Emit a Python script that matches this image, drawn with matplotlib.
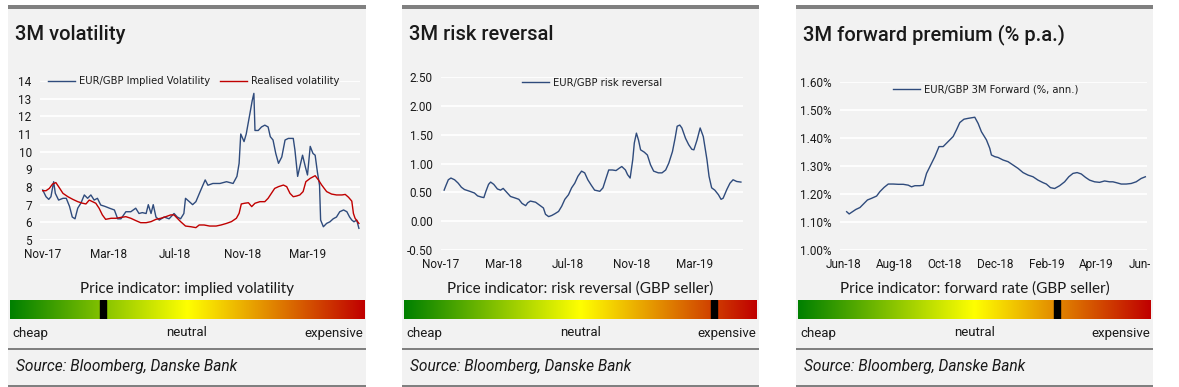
import matplotlib
matplotlib.use('Agg')
import matplotlib.pyplot as plt
import numpy as np
import pandas as pd
from matplotlib.patches import Rectangle
from matplotlib.colors import LinearSegmentedColormap
from matplotlib.transforms import Bbox, TransformedBbox
from matplotlib.ticker import FuncFormatter

# ---------------- data ----------------
iv_dates = ['2017-11-01','2017-11-07','2017-11-12','2017-11-16','2017-11-21','2017-11-24','2017-11-30',
    '2017-12-08','2017-12-14','2017-12-20','2017-12-25','2017-12-30','2018-01-04','2018-01-10','2018-01-16',
    '2018-01-22','2018-01-28','2018-02-03','2018-02-09','2018-02-15','2018-02-23','2018-03-03','2018-03-12',
    '2018-03-18','2018-03-24','2018-04-02','2018-04-11','2018-04-20','2018-04-26','2018-05-02','2018-05-09',
    '2018-05-13','2018-05-18','2018-05-22','2018-05-27','2018-06-02','2018-06-11','2018-06-20','2018-06-29',
    '2018-07-05','2018-07-11','2018-07-17','2018-07-20','2018-07-27','2018-08-02','2018-08-08','2018-08-17',
    '2018-08-25','2018-08-30','2018-09-08','2018-09-21','2018-10-03','2018-10-15','2018-10-22','2018-10-26',
    '2018-10-29','2018-11-04','2018-11-08','2018-11-15','2018-11-19','2018-11-22','2018-11-24','2018-11-30',
    '2018-12-06','2018-12-12','2018-12-18','2018-12-22','2018-12-27','2019-01-01','2019-01-06','2019-01-12',
    '2019-01-18','2019-01-24','2019-02-02','2019-02-05','2019-02-10','2019-02-14','2019-02-19','2019-02-24',
    '2019-02-28','2019-03-05','2019-03-10','2019-03-14','2019-03-18','2019-03-22','2019-03-24','2019-03-29',
    '2019-04-04','2019-04-10','2019-04-16','2019-04-22','2019-04-28','2019-05-05','2019-05-11','2019-05-16',
    '2019-05-20','2019-05-24','2019-05-29','2019-06-02']
iv_values = [7.83,7.45,7.30,7.45,8.30,7.64,7.26,
    7.36,7.36,6.90,6.30,6.20,6.80,7.10,7.55,
    7.36,7.55,7.26,7.36,6.98,6.90,6.80,6.70,
    6.20,6.20,6.60,6.60,6.80,6.50,6.55,6.50,
    7.00,6.50,7.00,6.30,6.13,6.30,6.20,6.50,
    6.30,6.20,6.50,7.36,7.17,7.00,7.17,7.83,
    8.40,8.10,8.20,8.20,8.30,8.20,8.60,9.34,
    11.00,10.57,11.00,12.20,12.90,13.30,11.20,11.20,
    11.40,11.50,11.40,10.85,10.66,9.90,9.34,9.70,
    10.66,10.75,10.75,10.10,8.60,9.15,9.80,9.15,
    8.68,10.30,9.90,9.80,8.87,8.10,6.13,5.75,
    5.94,6.03,6.20,6.30,6.60,6.70,6.60,6.30,
    6.13,6.03,6.13,5.66]

rv_dates = ['2017-11-01','2017-11-07','2017-11-13','2017-11-19','2017-11-25','2017-11-30','2017-12-08',
    '2017-12-17','2017-12-26','2018-01-04','2018-01-13','2018-01-19','2018-01-25','2018-01-31','2018-02-06',
    '2018-02-12','2018-02-18','2018-02-24','2018-03-06','2018-03-15','2018-03-24','2018-04-02','2018-04-11',
    '2018-04-20','2018-04-29','2018-05-09','2018-05-18','2018-05-27','2018-06-05','2018-06-14','2018-06-23',
    '2018-06-29','2018-07-05','2018-07-11','2018-07-20','2018-07-30','2018-08-08','2018-08-14','2018-08-23',
    '2018-09-02','2018-09-14','2018-09-23','2018-10-03','2018-10-12','2018-10-21','2018-10-26','2018-10-30',
    '2018-11-05','2018-11-12','2018-11-18','2018-11-24','2018-12-03','2018-12-12','2018-12-18','2018-12-24',
    '2018-12-30','2019-01-06','2019-01-15','2019-01-21','2019-01-27','2019-02-02','2019-02-08','2019-02-14',
    '2019-02-20','2019-02-25','2019-03-05','2019-03-14','2019-03-20','2019-03-26','2019-04-04','2019-04-13',
    '2019-04-22','2019-05-02','2019-05-08','2019-05-14','2019-05-20','2019-05-23','2019-05-26','2019-06-02']
rv_values = [7.79,7.79,7.92,8.17,8.25,8.02,7.64,
    7.45,7.30,7.17,7.08,7.04,7.26,7.17,7.08,
    6.80,6.42,6.17,6.23,6.23,6.28,6.32,6.23,
    6.10,5.98,5.98,6.04,6.17,6.23,6.32,6.42,
    6.42,6.23,6.04,5.79,5.75,5.70,5.85,5.85,
    5.79,5.79,5.85,5.94,6.04,6.23,6.51,7.04,
    7.08,7.11,6.89,7.08,7.17,7.17,7.36,7.64,
    7.92,8.02,8.11,8.02,7.64,7.45,7.49,7.55,
    7.74,8.30,8.49,8.64,8.40,8.11,7.74,7.60,
    7.55,7.55,7.58,7.42,7.20,6.50,6.23,5.94]

rr_dates = ['2017-11-07','2017-11-10','2017-11-15','2017-11-20','2017-11-27','2017-12-04','2017-12-10',
    '2017-12-16','2017-12-26','2018-01-04','2018-01-10','2018-01-17','2018-01-22','2018-01-26','2018-01-31',
    '2018-02-04','2018-02-10','2018-02-17','2018-02-23','2018-02-28','2018-03-08','2018-03-14','2018-03-24',
    '2018-03-30','2018-04-05','2018-04-12','2018-04-16','2018-04-21','2018-05-01','2018-05-10','2018-05-16',
    '2018-05-20','2018-05-26','2018-06-01','2018-06-07','2018-06-14','2018-06-20','2018-06-26','2018-07-03',
    '2018-07-09','2018-07-15','2018-07-21','2018-07-28','2018-08-03','2018-08-09','2018-08-16','2018-08-22',
    '2018-09-01','2018-09-07','2018-09-13','2018-09-18','2018-09-25','2018-10-02','2018-10-08','2018-10-13',
    '2018-10-20','2018-10-24','2018-10-29','2018-11-03','2018-11-06','2018-11-10','2018-11-14','2018-11-18',
    '2018-11-25','2018-12-01','2018-12-07','2018-12-13','2018-12-22','2018-12-29','2019-01-05','2019-01-11',
    '2019-01-18','2019-01-23','2019-01-27','2019-02-01','2019-02-05','2019-02-12','2019-02-18','2019-02-24',
    '2019-02-28','2019-03-06','2019-03-12','2019-03-18','2019-03-25','2019-03-29','2019-04-03','2019-04-09',
    '2019-04-16','2019-04-21','2019-04-25','2019-05-02','2019-05-08','2019-05-14','2019-05-21','2019-05-29']
rr_values = [0.54,0.61,0.72,0.75,0.72,0.66,0.59,
    0.55,0.52,0.49,0.44,0.42,0.41,0.52,0.64,
    0.68,0.64,0.56,0.54,0.57,0.49,0.43,0.40,
    0.38,0.31,0.27,0.32,0.35,0.33,0.27,0.23,
    0.12,0.08,0.10,0.13,0.17,0.26,0.38,0.46,
    0.58,0.66,0.78,0.87,0.84,0.72,0.62,0.54,
    0.52,0.58,0.75,0.89,0.89,0.88,0.92,0.95,
    0.89,0.81,0.75,1.07,1.36,1.53,1.41,1.24,
    1.20,1.15,0.98,0.87,0.84,0.84,0.89,1.01,
    1.21,1.44,1.65,1.67,1.62,1.44,1.33,1.25,
    1.24,1.41,1.62,1.47,1.07,0.78,0.58,0.54,
    0.46,0.38,0.40,0.55,0.66,0.72,0.69,0.68]

fw_dates = ['2018-06-05','2018-06-08','2018-06-12','2018-06-16','2018-06-21','2018-06-25','2018-06-30',
    '2018-07-05','2018-07-11','2018-07-15','2018-07-20','2018-07-25','2018-07-31','2018-08-06','2018-08-12',
    '2018-08-18','2018-08-22','2018-08-26','2018-09-01','2018-09-05','2018-09-09','2018-09-13','2018-09-19',
    '2018-09-24','2018-09-29','2018-10-03','2018-10-07','2018-10-11','2018-10-15','2018-10-19','2018-10-24',
    '2018-10-29','2018-11-06','2018-11-10','2018-11-14','2018-11-20','2018-11-24','2018-11-26','2018-11-30',
    '2018-12-04','2018-12-10','2018-12-16','2018-12-22','2018-12-28','2019-01-03','2019-01-09','2019-01-15',
    '2019-01-21','2019-01-27','2019-01-31','2019-02-05','2019-02-10','2019-02-16','2019-02-22','2019-02-27',
    '2019-03-04','2019-03-09','2019-03-14','2019-03-19','2019-03-24','2019-03-30','2019-04-05','2019-04-11',
    '2019-04-17','2019-04-21','2019-04-25','2019-05-01','2019-05-07','2019-05-13','2019-05-19','2019-05-25',
    '2019-05-30']
fw_values = [1.137,1.129,1.137,1.145,1.152,1.164,1.179,
    1.185,1.193,1.209,1.224,1.236,1.236,1.235,1.235,
    1.232,1.226,1.230,1.230,1.232,1.274,1.298,1.334,
    1.370,1.370,1.382,1.394,1.406,1.430,1.456,1.468,
    1.471,1.475,1.453,1.423,1.394,1.364,1.340,1.334,
    1.331,1.322,1.316,1.304,1.292,1.277,1.268,1.262,
    1.250,1.241,1.236,1.223,1.220,1.230,1.244,1.262,
    1.274,1.277,1.272,1.260,1.250,1.244,1.242,1.247,
    1.244,1.244,1.241,1.236,1.236,1.238,1.244,1.256,
    1.262]

titles = ['3M volatility', '3M risk reversal', '3M forward premium (% p.a.)']
indicator_titles = ['Price indicator: implied volatility',
                    'Price indicator: risk reversal (GBP seller)',
                    'Price indicator: forward rate (GBP seller)']
indicator_pos = [0.263, 0.879, 0.734]
scale_labels = ['cheap', 'neutral', 'expensive']
source_text = 'Source: Bloomberg, Danske Bank'

ticks_12 = ['2017-11-01', '2018-03-01', '2018-07-01', '2018-11-01', '2019-03-01']
ticklabels_12 = ['Nov-17', 'Mar-18', 'Jul-18', 'Nov-18', 'Mar-19']
ticks_3 = ['2018-06-01', '2018-08-01', '2018-10-01', '2018-12-01', '2019-02-01', '2019-04-01', '2019-06-01']
ticklabels_3 = ['Jun-18', 'Aug-18', 'Oct-18', 'Dec-18', 'Feb-19', 'Apr-19', 'Jun-19']

# ---------------- layout ----------------
W, H = 1179, 387
fig = plt.figure(figsize=(W / 100, H / 100), dpi=100)
fig.patch.set_facecolor('white')

BG = '#f2f2f2'
GRAYLINE = '#808080'
NAVY = '#2f4b7c'
RED = '#c00000'
TXT = '#1a1a1a'
FONT = 'Roboto'
FONT2 = 'Lato'
LEGFONT = 'DejaVu Sans'

def rect_px(x0, y0, x1, y1, color, z=-2):
    fig.patches.append(Rectangle((x0 / W, 1 - y1 / H), (x1 - x0) / W, (y1 - y0) / H,
                                 transform=fig.transFigure, facecolor=color,
                                 edgecolor='none', zorder=z))

def axes_px(l, t, r, b):
    return fig.add_axes([l / W, 1 - b / H, (r - l) / W, (b - t) / H])

panels = [(8, 366), (402, 759), (796, 1153)]
plot_boxes = [(40, 81, 360, 240), (441, 77.3, 743, 250), (840, 82.3, 1147, 250)]
xlims = [('2017-10-27', '2019-06-04'), ('2017-11-05', '2019-06-02'), ('2018-05-28', '2019-06-01')]

for (x0, x1) in panels:
    rect_px(x0, 8, x1, 386, BG, z=-3)
    rect_px(x0, 5.5, x1, 8.5, GRAYLINE, z=-2)
    rect_px(x0, 347.5, x1, 350, GRAYLINE, z=-2)
    rect_px(x0, 384.5, x1, 387, GRAYLINE, z=-2)

cmap = LinearSegmentedColormap.from_list('ind', [(0, '#008000'), (0.5, '#ffff00'), (1, '#c00000')])

for i, (x0, x1) in enumerate(panels):
    fig.text((x0 + 7) / W, 1 - 35 / H, titles[i], fontsize=14.5, family=FONT,
             fontweight='medium', color=TXT, va='center', ha='left')
    cx = (x0 + x1) / 2
    fig.text(cx / W, 1 - 289 / H, indicator_titles[i], fontsize=11, family=FONT2,
             color=TXT, va='center', ha='center')
    bx = axes_px(x0 + 2, 300, x1 - 2, 319)
    bx.imshow(np.linspace(0, 1, 256)[None, :], aspect='auto', cmap=cmap,
              extent=(0, 1, 0, 1))
    bx.axvspan(indicator_pos[i] - 0.009, indicator_pos[i] + 0.009, color='black')
    bx.set_xlim(0, 1)
    bx.set_ylim(0, 1)
    bx.axis('off')
    fig.text((x0 + 4) / W, 1 - 333 / H, scale_labels[0], fontsize=9.5, family=FONT,
             color=TXT, va='center', ha='left')
    fig.text(cx / W, 1 - 333 / H, scale_labels[1], fontsize=9.5, family=FONT,
             color=TXT, va='center', ha='center')
    fig.text((x1 - 3) / W, 1 - 333 / H, scale_labels[2], fontsize=9.5, family=FONT,
             color=TXT, va='center', ha='right')
    fig.text((x0 + 8) / W, 1 - 367 / H, source_text, fontsize=11.2, family=FONT,
             style='italic', color=TXT, va='center', ha='left')

def style_axes(ax, yticks, fmt, xlim, ticks, ticklabels):
    ax.set_facecolor('none')
    for s in ax.spines.values():
        s.set_visible(False)
    ax.set_yticks(yticks)
    ax.set_ylim(yticks[0], yticks[-1])
    ax.yaxis.set_major_formatter(FuncFormatter(fmt))
    ax.set_xlim(pd.Timestamp(xlim[0]), pd.Timestamp(xlim[1]))
    ax.set_xticks(pd.to_datetime(ticks))
    ax.set_xticklabels(ticklabels)
    ax.grid(axis='y', color='white', lw=1.3, zorder=0)
    ax.grid(axis='x', visible=False)
    ax.tick_params(length=0, labelsize=8.5, colors=TXT, pad=6)
    for lab in ax.get_xticklabels() + ax.get_yticklabels():
        lab.set_family(FONT)
    ax.set_axisbelow(True)

def add_legend(ax, anchor, ncol=1, frame=False):
    leg = ax.legend(loc='center', bbox_to_anchor=anchor, ncol=ncol, frameon=frame,
                    handlelength=2.7, handletextpad=0.4, columnspacing=1.0, borderpad=0.1,
                    prop={'family': LEGFONT, 'size': 7.2})
    if frame:
        leg.get_frame().set_facecolor(BG)
        leg.get_frame().set_edgecolor('none')
        leg.get_frame().set_alpha(1)
    for t in leg.get_texts():
        t.set_color(TXT)
    return leg

# Panel 1
ax1 = axes_px(*plot_boxes[0])
style_axes(ax1, np.arange(5, 15, 1), lambda v, p: f'{v:.0f}', xlims[0], ticks_12, ticklabels_12)
ax1.plot(pd.to_datetime(iv_dates), iv_values, color=NAVY, lw=1.0, label='EUR/GBP Implied Volatility')
ax1.plot(pd.to_datetime(rv_dates), rv_values, color=RED, lw=1.0, label='Realised volatility')
add_legend(ax1, (0.48, 1.0), ncol=2, frame=True)

# Panel 2
ax2 = axes_px(*plot_boxes[1])
style_axes(ax2, np.arange(-0.5, 2.51, 0.5), lambda v, p: f'{v:.2f}', xlims[1], ticks_12, ticklabels_12)
ax2.plot(pd.to_datetime(rr_dates), rr_values, color=NAVY, lw=1.0, label='EUR/GBP risk reversal')
add_legend(ax2, (0.5, 0.967))

# Panel 3
ax3 = axes_px(*plot_boxes[2])
style_axes(ax3, np.round(np.arange(1.0, 1.61, 0.1), 2), lambda v, p: f'{v:.2f}%', xlims[2], ticks_3, ticklabels_3)
ax3.plot(pd.to_datetime(fw_dates), fw_values, color=NAVY, lw=1.0, label='EUR/GBP 3M Forward (%, ann.)')
add_legend(ax3, (0.474, 0.96))
last = ax3.get_xticklabels()[-1]
last.set_clip_on(True)
last.set_clip_box(TransformedBbox(Bbox([[0, 0], [1150 / W, 1]]), fig.transFigure))

fig.savefig('out.png', dpi=100, facecolor='white')
